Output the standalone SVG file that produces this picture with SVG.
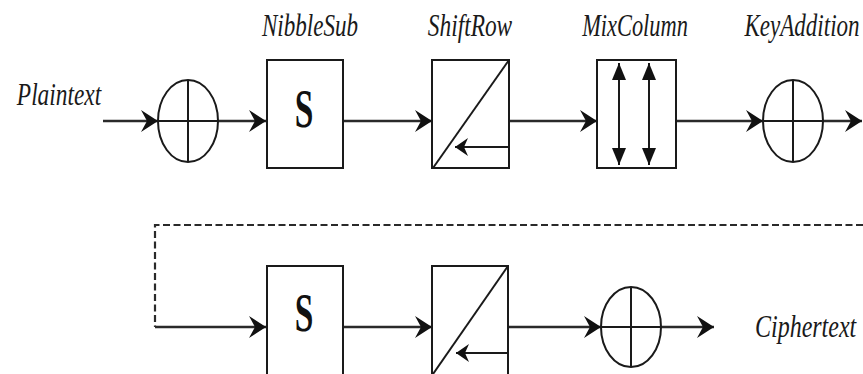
<svg xmlns="http://www.w3.org/2000/svg" width="863" height="374" viewBox="0 0 863 374">
  <style>
    .box { fill: #fff; stroke: #1a1a1a; stroke-width: 2; }
    .xor { fill: none; stroke: #1a1a1a; stroke-width: 2; }
    .thin { stroke: #1a1a1a; stroke-width: 2; fill: none; }
    .wire { stroke: #2a2a2a; stroke-width: 2.4; fill: none; }
    .dash { stroke: #2a2a2a; stroke-width: 2.2; fill: none; stroke-dasharray: 7 3.5; }
    .label { font-family: "Liberation Serif", "Times New Roman", serif; font-style: italic; font-size: 32px; fill: #1a1a1a; }
    .sbox { font-family: "Liberation Serif", "Times New Roman", serif; font-weight: bold; font-size: 54px; fill: #111; }
  </style>
  <defs>
    <marker id="arrow" viewBox="-18 -12 20 24" refX="0" refY="0" markerWidth="20" markerHeight="24" markerUnits="userSpaceOnUse" orient="auto">
      <path d="M0,0 L-17,-11 L-11,0 L-17,11 Z" fill="#111"/>
    </marker>
    <marker id="arrowSmall" viewBox="-14 -10 16 20" refX="0" refY="0" markerWidth="16" markerHeight="20" markerUnits="userSpaceOnUse" orient="auto">
      <path d="M0,0 L-13,-9 L-9,0 L-13,9 Z" fill="#111"/>
    </marker>
    <marker id="arrowCol" viewBox="-18 -9 20 18" refX="0" refY="0" markerWidth="20" markerHeight="18" markerUnits="userSpaceOnUse" orient="auto">
      <path d="M0,0 L-17,-7 L-17,7 Z" fill="#111"/>
    </marker>
  </defs>

  <!-- labels -->
  <g transform="translate(59,105) scale(0.73,1)"><text class="label" text-anchor="middle" font-size="35">Plaintext</text></g>
  <g transform="translate(310,36) scale(0.72,1)"><text class="label" text-anchor="middle">NibbleSub</text></g>
  <g transform="translate(470,36) scale(0.73,1)"><text class="label" text-anchor="middle">ShiftRow</text></g>
  <g transform="translate(635,36) scale(0.70,1)"><text class="label" text-anchor="middle">MixColumn</text></g>
  <g transform="translate(802,36) scale(0.72,1)"><text class="label" text-anchor="middle">KeyAddition</text></g>
  <g transform="translate(755,337) scale(0.75,1)"><text class="label" text-anchor="start">Ciphertext</text></g>

  <!-- connectors -->
  <g id="connectors">
    <line class="wire" x1="103" y1="121" x2="158" y2="121" marker-end="url(#arrow)"/>
    <line class="wire" x1="218" y1="121" x2="266" y2="121" marker-end="url(#arrow)"/>
    <line class="wire" x1="343" y1="121" x2="432" y2="121" marker-end="url(#arrow)"/>
    <line class="wire" x1="509" y1="121" x2="597" y2="121" marker-end="url(#arrow)"/>
    <line class="wire" x1="676" y1="121" x2="763" y2="121" marker-end="url(#arrow)"/>
    <line class="wire" x1="822" y1="121" x2="862" y2="121" marker-end="url(#arrow)"/>
    <!-- feedback to next round -->
    <polyline class="dash" points="863,225 155,225 155,327"/>
    <line class="wire" x1="155" y1="327" x2="266" y2="327" marker-end="url(#arrow)"/>
    <line class="wire" x1="343" y1="327" x2="432" y2="327" marker-end="url(#arrow)"/>
    <line class="wire" x1="508" y1="327" x2="601" y2="327" marker-end="url(#arrow)"/>
    <line class="wire" x1="661" y1="327" x2="714" y2="327" marker-end="url(#arrow)"/>
  </g>

  <!-- first XOR -->
  <g id="xor-in">
    <ellipse class="xor" cx="188" cy="121" rx="30" ry="41"/>
    <line class="thin" x1="188" y1="80" x2="188" y2="162"/>
    <line class="thin" x1="158" y1="121" x2="218" y2="121"/>
  </g>

  <!-- NibbleSub -->
  <g id="nibblesub-1">
    <rect class="box" x="267" y="60" width="76" height="108"/>
    <g transform="translate(304,127) scale(0.62,1)"><text class="sbox" text-anchor="middle">S</text></g>
  </g>

  <!-- ShiftRow -->
  <g id="shiftrow-1">
    <rect class="box" x="432" y="60" width="77" height="108"/>
    <line class="thin" x1="433" y1="168" x2="509" y2="60"/>
    <line class="thin" x1="509" y1="147" x2="455" y2="147" marker-end="url(#arrowSmall)"/>
  </g>

  <!-- MixColumn -->
  <g id="mixcolumn">
    <rect class="box" x="597" y="60" width="79" height="108"/>
    <line class="thin" x1="619" y1="80" x2="619" y2="148"/>
    <line class="thin" x1="649" y1="80" x2="649" y2="148"/>
    <line class="thin" x1="619" y1="80" x2="619" y2="63" marker-end="url(#arrowCol)"/>
    <line class="thin" x1="619" y1="148" x2="619" y2="165" marker-end="url(#arrowCol)"/>
    <line class="thin" x1="649" y1="80" x2="649" y2="63" marker-end="url(#arrowCol)"/>
    <line class="thin" x1="649" y1="148" x2="649" y2="165" marker-end="url(#arrowCol)"/>
  </g>

  <!-- KeyAddition -->
  <g id="keyaddition">
    <ellipse class="xor" cx="793" cy="121" rx="30" ry="41"/>
    <line class="thin" x1="793" y1="80" x2="793" y2="162"/>
    <line class="thin" x1="763" y1="121" x2="823" y2="121"/>
  </g>

  <!-- final round -->
  <g id="nibblesub-2">
    <rect class="box" x="267" y="266" width="76" height="110"/>
    <g transform="translate(304,331) scale(0.62,1)"><text class="sbox" text-anchor="middle">S</text></g>
  </g>

  <g id="shiftrow-2">
    <rect class="box" x="432" y="266" width="76" height="110"/>
    <line class="thin" x1="433" y1="374" x2="508" y2="266"/>
    <line class="thin" x1="508" y1="353" x2="456" y2="353" marker-end="url(#arrowSmall)"/>
  </g>

  <g id="xor-out">
    <ellipse class="xor" cx="631" cy="327" rx="30" ry="40"/>
    <line class="thin" x1="631" y1="287" x2="631" y2="367"/>
    <line class="thin" x1="601" y1="327" x2="661" y2="327"/>
  </g>
</svg>
